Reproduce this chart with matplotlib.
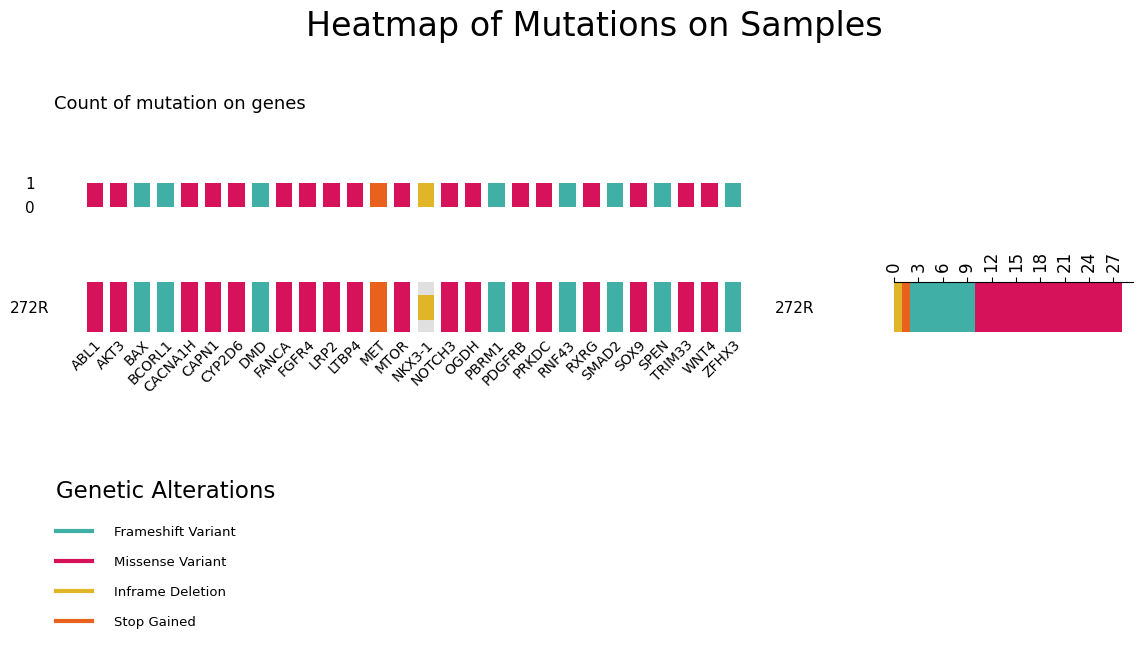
import matplotlib

matplotlib.use("Agg")

import matplotlib.pyplot as plt
from matplotlib.lines import Line2D

genes = ["ABL1", "AKT3", "BAX", "BCORL1", "CACNA1H", "CAPN1", "CYP2D6", "DMD",
         "FANCA", "FGFR4", "LRP2", "LTBP4", "MET", "MTOR", "NKX3-1", "NOTCH3",
         "OGDH", "PBRM1", "PDGFRB", "PRKDC", "RNF43", "RXRG", "SMAD2", "SOX9",
         "SPEN", "TRIM33", "WNT4", "ZFHX3"]
mutations = ["M", "M", "F", "F", "M", "M", "M", "F",
             "M", "M", "M", "M", "S", "M", "I", "M",
             "M", "F", "M", "M", "F", "M", "F", "M",
             "F", "M", "M", "F"]
gene_counts = [1] * len(genes)
sample = "272R"

types = ["I", "S", "F", "M"]
names = {"F": "Frameshift Variant", "M": "Missense Variant",
         "I": "Inframe Deletion", "S": "Stop Gained"}
colors = {"F": "#40b0a6", "M": "#d6135a", "I": "#e0b628", "S": "#e8611d"}
grey = "#e0e0e0"

fig = plt.figure(figsize=(11.45, 6.68), dpi=100)
W, H = 1145, 668


def ax_px(x0, y0, x1, y1):
    return fig.add_axes([x0 / W, 1 - y1 / H, (x1 - x0) / W, (y1 - y0) / H])


fig.suptitle("Heatmap of Mutations on Samples", fontsize=24, x=0.519, y=0.985)

n = len(genes)
xs = range(n)

# count bars
ax_top = ax_px(83, 183, 745, 207)
for i, (m, c) in enumerate(zip(mutations, gene_counts)):
    ax_top.bar(i, c, width=0.7, color=colors[m])
ax_top.set_xlim(-0.5, n - 0.5)
ax_top.set_ylim(0, 1)
ax_top.set_xticks([])
ax_top.set_yticks([0, 1])
ax_top.tick_params(left=False, labelsize=11, pad=31)
for s in ax_top.spines.values():
    s.set_visible(False)
fig.text(54 / W, 1 - 104 / H, "Count of mutation on genes", fontsize=13, va="center")

# heatmap row
ax_hm = ax_px(83, 282, 745, 332)
for i, m in enumerate(mutations):
    if m == "I":
        ax_hm.bar(i, 1, width=0.7, color=grey)
        ax_hm.bar(i, 0.5, bottom=0.25, width=0.7, color=colors[m])
    elif m == "S":
        ax_hm.bar(i, 1.04, bottom=-0.04, width=0.7, color=colors[m])
    else:
        ax_hm.bar(i, 1, width=0.7, color=colors[m])
ax_hm.set_xlim(-0.5, n - 0.5)
ax_hm.set_ylim(0, 1)
ax_hm.set_xticks(list(xs))
ax_hm.set_xticklabels(genes, rotation=45, ha="right", rotation_mode="anchor", fontsize=10)
ax_hm.set_yticks([0.5])
ax_hm.set_yticklabels([sample], fontsize=11)
ax_hm.tick_params(axis="y", length=0, pad=24)
ax_hm.tick_params(axis="x", length=0, pad=4)
for s in ax_hm.spines.values():
    s.set_visible(False)

# stacked per-sample bar
ax_r = ax_px(894, 282, 1133, 332)
left = 0
for t in types:
    c = mutations.count(t)
    ax_r.barh(0, c, left=left, height=1, color=colors[t])
    left += c
ax_r.set_xlim(0, 29.4)
ax_r.set_ylim(-0.5, 0.5)
ax_r.xaxis.tick_top()
ax_r.set_xticks(range(0, 28, 3))
ax_r.tick_params(axis="x", rotation=90, labelsize=12)
ax_r.set_yticks([0])
ax_r.set_yticklabels([sample], fontsize=11)
ax_r.tick_params(axis="y", length=0, pad=57)
for s in ["right", "bottom", "left"]:
    ax_r.spines[s].set_visible(False)

# legend
handles = [Line2D([0], [0], color=colors[t], lw=3) for t in ["F", "M", "I", "S"]]
leg = fig.legend(handles, [names[t] for t in ["F", "M", "I", "S"]],
                 loc="upper left", bbox_to_anchor=(44 / W, 1 - 468 / H),
                 frameon=False, title="Genetic Alterations", title_fontsize=16.5,
                 fontsize=9.5, handlelength=2.7, labelspacing=1.3, handletextpad=1.7)
leg._legend_box.align = "left"
leg._legend_box.sep += 4

fig.savefig("out.png", dpi=100)
